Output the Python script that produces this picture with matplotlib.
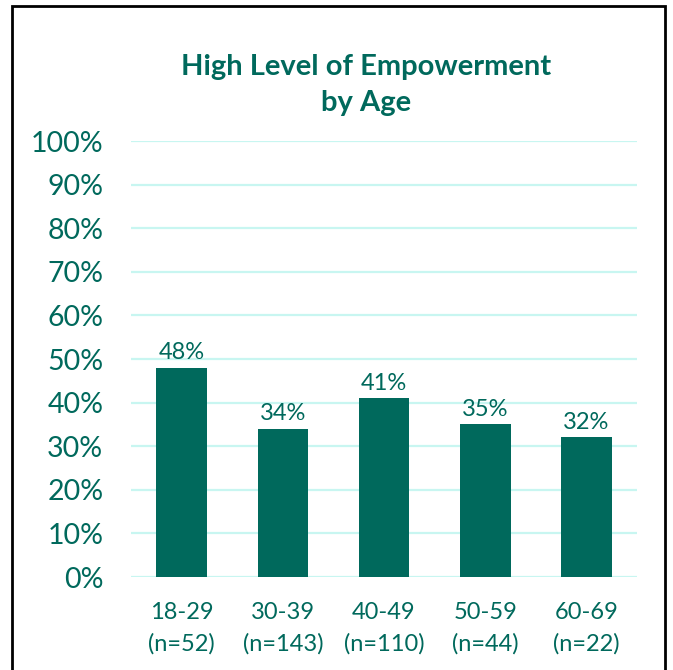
import matplotlib.pyplot as plt
from matplotlib.patches import Rectangle
from matplotlib.ticker import PercentFormatter

# values
ages = ["18-29", "30-39", "40-49", "50-59", "60-69"]
counts = [52, 143, 110, 44, 22]
high_pct = [48, 34, 41, 35, 32]

teal = "#00695c"
grid_col = "#c8f6f1"

plt.rcParams['font.family'] = ['Lato', 'DejaVu Sans']

fig = plt.figure(figsize=(6.73, 6.70), dpi=100)
ax = fig.add_axes([0.1947, 0.1388, 0.7518, 0.6507])

labels = [f"{a}\n(n={n})" for a, n in zip(ages, counts)]
x = range(len(ages))
bars = ax.bar(x, high_pct, width=0.5, color=teal, zorder=3)
for b, v in zip(bars, high_pct):
    ax.text(b.get_x() + b.get_width() / 2, v + 1.0, f"{v}%", ha='center', va='bottom',
            fontsize=17, color=teal)

ax.set_xlim(-0.5, len(ages) - 0.5)
ax.set_ylim(0, 100)
ax.set_yticks(range(0, 101, 10))
ax.yaxis.set_major_formatter(PercentFormatter(decimals=0))
ax.set_xticks(list(x))
ax.set_xticklabels(labels, fontsize=17, color=teal)
plt.setp(ax.get_xticklabels(), linespacing=1.6)
ax.tick_params(axis='y', labelsize=20.5, labelcolor=teal, length=0, pad=20)
ax.tick_params(axis='x', length=0, pad=18)
ax.grid(axis='y', color=grid_col, linewidth=1.6, zorder=0)
for s in ax.spines.values():
    s.set_visible(False)

fig.text(366 / 673, 1 - 85 / 670, "High Level of Empowerment\nby Age", ha='center', va='center',
         fontsize=21, fontweight='bold', color=teal, linespacing=1.45)

# black frame round the chart area
fig.patches.append(Rectangle((12 / 673, -0.02), 653 / 673, 1.02 - 6 / 670, transform=fig.transFigure,
                             fill=False, edgecolor='black', linewidth=2))

fig.savefig("out.png", dpi=100)
